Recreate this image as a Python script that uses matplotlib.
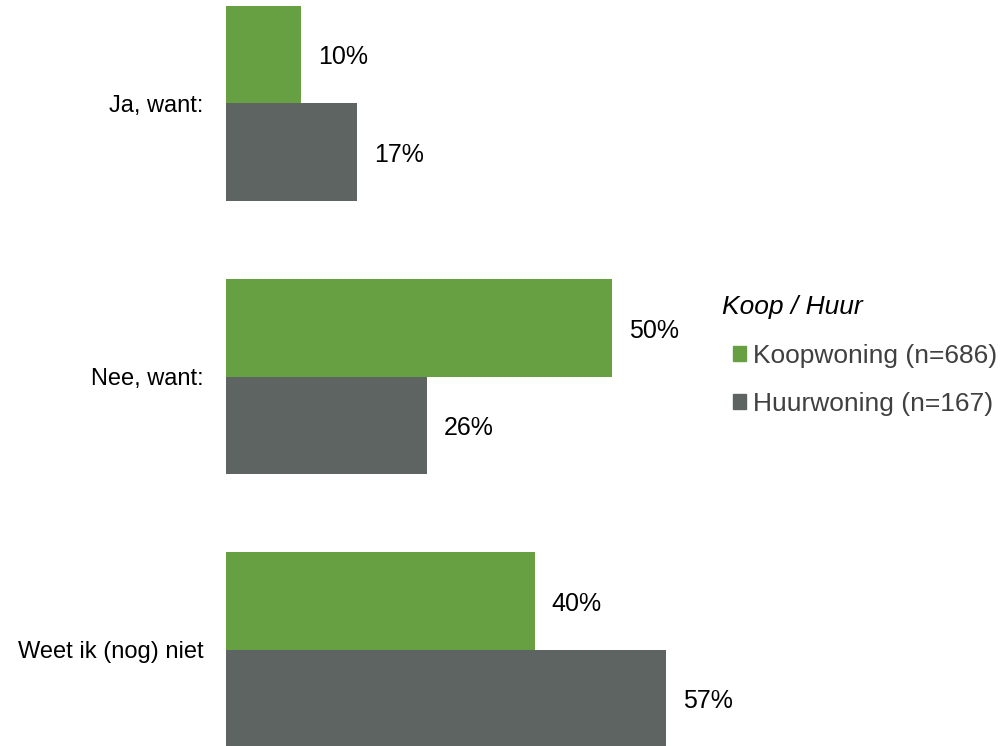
import numpy as np
import matplotlib.pyplot as plt
from matplotlib.patches import Patch

plt.rcParams['font.family'] = ['Liberation Sans', 'DejaVu Sans']

categories = ['Ja, want:', 'Nee, want:', 'Weet ik (nog) niet']
koop = [9.7, 50, 40]
huur = [17, 26, 57]
koop_labels = ['10%', '50%', '40%']
huur_labels = ['17%', '26%', '57%']
series_names = ['Koopwoning (n=686)', 'Huurwoning (n=167)']
legend_title = 'Koop / Huur'

green = '#66a043'
grey = '#5d6461'

fig = plt.figure(figsize=(10.01, 7.46), dpi=100)
ax = fig.add_axes([226 / 1001, 0, 772 / 1001, 1])

y = np.arange(len(categories))
h = 0.357
b1 = ax.barh(y - h / 2, koop, height=h, color=green)
b2 = ax.barh(y + h / 2, huur, height=h, color=grey)

for yy, v, lab in zip(y - h / 2, koop, koop_labels):
    ax.text(v + 2.2, yy + 0.01, lab, va='center', ha='left', fontsize=18)
for yy, v, lab in zip(y + h / 2, huur, huur_labels):
    ax.text(v + 2.2, yy + 0.01, lab, va='center', ha='left', fontsize=18)

ax.set_xlim(0, 100)
ax.set_ylim(2.353, -0.379)
ax.set_yticks(y)
ax.set_yticklabels(categories, fontsize=17)
ax.tick_params(axis='y', length=0, pad=16)
ax.set_xticks([])
for s in ax.spines.values():
    s.set_visible(False)

# legend
fig.text(722 / 1001, 1 - 307 / 746, legend_title, fontsize=19,
         style='italic', va='center', ha='left')
handles = [Patch(color=green), Patch(color=grey)]
leg = fig.legend(handles, series_names, loc='upper left',
                 bbox_to_anchor=(733 / 1001, 1 - 344 / 746),
                 frameon=False, fontsize=19, handlelength=0.5,
                 handleheight=0.5, handletextpad=0.25, labelspacing=0.9,
                 borderpad=0, borderaxespad=0)
for t in leg.get_texts():
    t.set_color('#404040')

fig.savefig('out.png', dpi=100)
